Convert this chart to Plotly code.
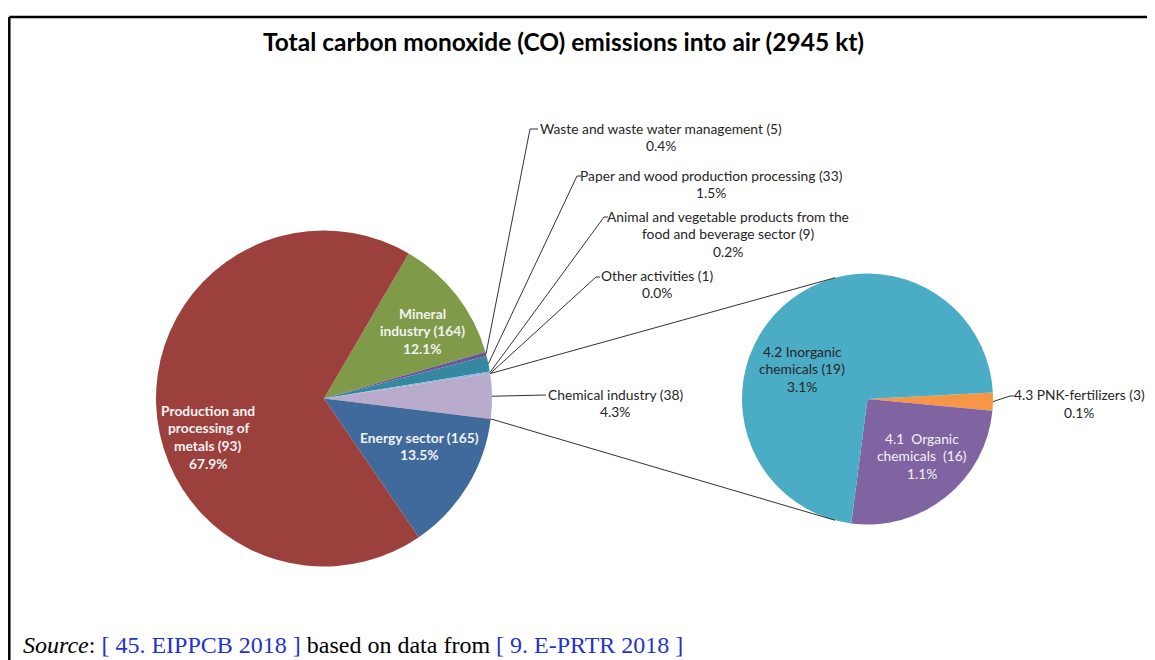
import math
import plotly.graph_objects as go

W, H = 1155, 660

# ---------------- data ----------------
title_text = "Total carbon monoxide (CO) emissions into air (2945 kt)"

main_labels = ["Mineral industry", "Waste and waste water management",
               "Paper and wood production processing",
               "Animal and vegetable products from the food and beverage sector",
               "Other activities", "Chemical industry", "Energy sector",
               "Production and processing of metals"]
main_counts = [164, 5, 33, 9, 1, 38, 165, 93]
main_shares = [12.1, 0.4, 1.5, 0.2, 0.0, 4.3, 13.5, 67.9]

sub_labels = ["4.3 PNK-fertilizers", "4.1 Organic chemicals", "4.2 Inorganic chemicals"]
sub_counts = [3, 16, 19]
sub_shares = [0.1, 1.1, 3.1]

# ---------------- style / layout ----------------
main_colors = ["#7F9B49", "#6E5596", "#35889F", "#8EB4E3", "#9BBB59",
               "#B8ABCB", "#40699C", "#9C403D"]
sub_colors = ["#F79646", "#8064A2", "#4BACC6"]

OFF = 8  # page body margin
MAIN_C, MAIN_R, MAIN_ROT = (324.0, 398.5), 168.0, 30.3
SUB_C, SUB_R, SUB_ROT = (867.5, 399.0), 125.5, 87.0
FONT = "Lato"
TXT = "#262626"
FS = 13.8


def px(x):
    return (x - OFF) / W


def py(y):
    return 1 - (y - OFF) / H


def angles(shares, rot):
    tot = sum(shares)
    out, a = [], rot
    for s in shares:
        b = a + 360.0 * s / tot
        out.append((a, b))
        a = b
    return out


def edge(c, r, ang):
    t = math.radians(ang)
    return (c[0] + r * math.sin(t), c[1] - r * math.cos(t))


def domain(c, r):
    return dict(x=[px(c[0] - r), px(c[0] + r)], y=[py(c[1] + r), py(c[1] - r)])


fig = go.Figure()
fig.add_trace(go.Pie(
    values=main_shares, labels=main_labels, customdata=main_counts,
    sort=False, direction="clockwise", rotation=MAIN_ROT,
    marker=dict(colors=main_colors, line=dict(width=0)),
    textinfo="none", domain=domain(MAIN_C, MAIN_R), showlegend=False,
    hovertemplate="%{label} (%{customdata})<br>%{value:.1f}%<extra></extra>"))
fig.add_trace(go.Pie(
    values=sub_shares, labels=sub_labels, customdata=sub_counts,
    sort=False, direction="clockwise", rotation=SUB_ROT,
    marker=dict(colors=sub_colors, line=dict(width=0)),
    textinfo="none", domain=domain(SUB_C, SUB_R), showlegend=False,
    hovertemplate="%{label} (%{customdata})<br>%{value:.1f}%<extra></extra>"))

annotations = []
shapes = []

wrap = {
    "Production and processing of metals": ["Production and", "processing of", "metals"],
    "Mineral industry": ["Mineral", "industry"],
    "Animal and vegetable products from the food and beverage sector":
        ["Animal and vegetable products from the", "food and beverage sector"],
    "4.2 Inorganic chemicals": ["4.2 Inorganic", "chemicals"],
    "4.1 Organic chemicals": ["4.1  Organic", "chemicals "],
}


def label_lines(label, count, share):
    lines = list(wrap.get(label, [label]))
    lines[-1] = f"{lines[-1]} ({count})"
    lines.append(f"{share:.1f}%")
    return lines


def add_block(lines, cx, y0, size, color, bold=False, step=17.8):
    for i, ln in enumerate(lines):
        t = f"<b>{ln}</b>" if bold else ln
        annotations.append(dict(
            x=px(cx), y=py(y0 + i * step), xref="paper", yref="paper",
            text=t, showarrow=False, xanchor="center", yanchor="middle",
            font=dict(family=FONT, size=size, color=color)))


def add_line(p, q, color="#333333", w=1):
    shapes.append(dict(type="line", xref="paper", yref="paper",
                       x0=px(p[0]), y0=py(p[1]), x1=px(q[0]), y1=py(q[1]),
                       line=dict(color=color, width=w)))


main_ang = angles(main_shares, MAIN_ROT)
sub_ang = angles(sub_shares, SUB_ROT)

# inside labels: (center x, first-line y, colour, bold)
inside_main = {
    "Production and processing of metals": (208, 410, "#F2F2F2", True),
    "Mineral industry": (422, 313, "#F2F2F2", True),
    "Energy sector": (419, 437, "#F2F2F2", True),
}
inside_sub = {
    "4.2 Inorganic chemicals": (802, 351, TXT, False),
    "4.1 Organic chemicals": (922, 438, "#F2F2F2", False),
}
# outside labels: (block centre x, first-line y, elbow point, line end point)
outside_main = {
    "Waste and waste water management": (661, 128, (530, 129), (538, 129)),
    "Paper and wood production processing": (711, 175, (577, 176), (581, 176)),
    "Animal and vegetable products from the food and beverage sector":
        (728, 216, (604, 217), (608, 217)),
    "Other activities": (657, 275, (596, 277), (600, 277)),
    "Chemical industry": (615, 394, None, (546, 395)),
}
outside_sub = {
    "4.3 PNK-fertilizers": (1079, 395, (1010, 396), (1014, 396)),
}

for lab, cnt, sh, (a0, a1) in zip(main_labels, main_counts, main_shares, main_ang):
    lines = label_lines(lab, cnt, sh)
    if lab in inside_main:
        cx, y0, col, b = inside_main[lab]
        add_block(lines, cx, y0, FS, col, bold=b)
    elif lab in outside_main:
        cx, y0, elbow, end = outside_main[lab]
        add_block(lines, cx, y0, FS, TXT)
        start = edge(MAIN_C, MAIN_R, (a0 + a1) / 2)
        if elbow:
            add_line(start, elbow)
            add_line(elbow, end)
        else:
            add_line(start, end)

for lab, cnt, sh, (a0, a1) in zip(sub_labels, sub_counts, sub_shares, sub_ang):
    lines = label_lines(lab, cnt, sh)
    if lab in inside_sub:
        cx, y0, col, b = inside_sub[lab]
        add_block(lines, cx, y0, FS, col, bold=b)
    elif lab in outside_sub:
        cx, y0, elbow, end = outside_sub[lab]
        add_block(lines, cx, y0, FS, TXT)
        start = edge(SUB_C, SUB_R, (a0 + a1) / 2)
        add_line(start, elbow)
        add_line(elbow, end)

# connector lines between the "Chemical industry" slice and the secondary pie
chem = main_ang[main_labels.index("Chemical industry")]
add_line(edge(MAIN_C, MAIN_R, chem[0]), edge(SUB_C, SUB_R, -15))
add_line(edge(MAIN_C, MAIN_R, chem[1]), edge(SUB_C, SUB_R, 195))

# frame
add_line((9.3, 17), (1170, 17), color="#000000", w=2.5)
add_line((9.3, 17), (9.3, 680), color="#000000", w=2.5)

# title
annotations.append(dict(x=px(563), y=py(41), xref="paper", yref="paper",
                        text=f"<b>{title_text}</b>", showarrow=False,
                        xanchor="center", yanchor="middle",
                        font=dict(family=FONT, size=24.5, color="#000000")))
# source line
blue = "#2233CC"
annotations.append(dict(
    x=px(21), y=py(660), xref="paper", yref="paper", showarrow=False,
    xanchor="left", yanchor="bottom",
    text=(f"<i>Source</i>: <span style='color:{blue}'>[ 45. EIPPCB 2018 ]</span> "
          f"based on data from <span style='color:{blue}'>[ 9. E-PRTR 2018 ]</span>"),
    font=dict(family="Liberation Serif", size=24, color="#000000")))

fig.update_layout(
    width=W, height=H, margin=dict(l=0, r=0, t=0, b=0),
    paper_bgcolor="white", plot_bgcolor="white",
    annotations=annotations, shapes=shapes, showlegend=False)

fig.write_html("out.html")
